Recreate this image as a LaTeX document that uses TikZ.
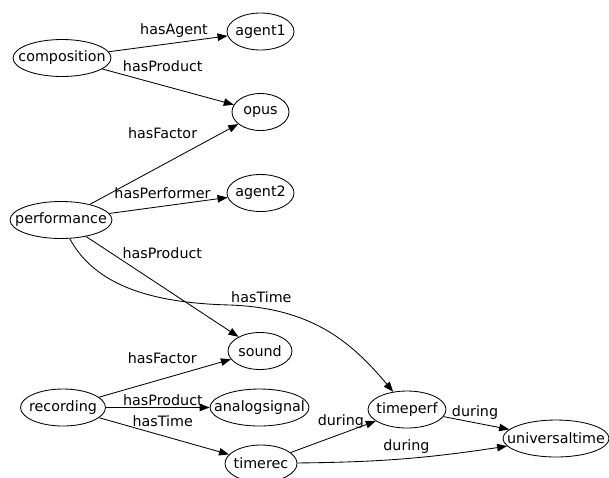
\documentclass[tikz,border=0pt]{standalone}
\usepackage{fontspec}
\setmainfont{DejaVu Sans}
\usetikzlibrary{arrows.meta,shapes.geometric}
\newcommand{\enttext}[1]{\makebox[0pt]{#1}}

\begin{document}
\begin{tikzpicture}[
  x=1pt, y=-1pt,
  font=\fontsize{14.3}{17}\selectfont,
  obj/.style={draw, ellipse, inner sep=0pt, minimum height=37pt, line width=0.85pt},
  arr/.style={-{Triangle[length=10pt,width=7.5pt]}, line width=0.85pt},
  lab/.style={inner sep=0pt}
]
\useasboundingbox (0,0) rectangle (609,477);
% entities
\node[obj, minimum width=98pt]  (composition)   at (62,58)    {\enttext{composition}};
\node[obj, minimum width=67pt]  (agent1)        at (260.5,31.5) {\enttext{agent1}};
\node[obj, minimum width=57pt]  (opus)          at (260.5,112) {\enttext{opus}};
\node[obj, minimum width=67pt]  (agent2)        at (260.5,193) {\enttext{agent2}};
\node[obj, minimum width=102pt] (performance)   at (61,220)   {\enttext{performance}};
\node[obj, minimum width=64pt]  (sound)         at (260,351)  {\enttext{sound}};
\node[obj, minimum width=85pt]  (recording)     at (63,407.5) {\enttext{recording}};
\node[obj, minimum width=99pt]  (analogsignal)  at (259.5,407.5) {\enttext{analogsignal}};
\node[obj, minimum width=78pt]  (timeperf)      at (407,409.5) {\enttext{timeperf}};
\node[obj, minimum width=106pt] (universaltime) at (556,438.5) {\enttext{universaltime}};
\node[obj, minimum width=72pt]  (timerec)       at (261,463.5) {\enttext{timerec}};
% relations
\draw[arr] (composition) -- node[lab, pos=0.55, yshift=12pt] {hasAgent} (agent1);
\draw[arr] (composition) -- node[lab, pos=0.46, yshift=19.5pt] {hasProduct} (opus);
\draw[arr] (performance) -- node[lab, pos=0.49, yshift=31.5pt] {hasFactor} (opus);
\draw[arr] (performance) -- node[lab, pos=0.45, yshift=13pt] {hasPerformer} (agent2);
\draw[arr] (performance) -- node[lab, pos=0.5, yshift=33.5pt] {hasProduct} (sound);
\draw[arr] (performance.-65) .. controls (95,285) and (150,303) .. (230,305)
  .. controls (310,308) and (350,340) .. (timeperf.128)
  node[lab, pos=0.14, yshift=10.5pt] {hasTime};
\draw[arr] (recording) -- node[lab, pos=0.48, yshift=21pt] {hasFactor} (sound);
\draw[arr] (recording) -- node[lab, pos=0.55, yshift=7.5pt] {hasProduct} (analogsignal);
\draw[arr] (recording) -- node[lab, pos=0.49, yshift=15pt] {hasTime} (timerec);
\draw[arr] (timerec) -- node[lab, pos=0.59, yshift=12pt] {during} (timeperf);
\draw[arr] (timeperf) -- node[lab, pos=0.48, yshift=10pt] {during} (universaltime);
\draw[arr] (timerec) to[bend right=4] node[lab, pos=0.52, yshift=11.5pt] {during} (universaltime);
\end{tikzpicture}
\end{document}
